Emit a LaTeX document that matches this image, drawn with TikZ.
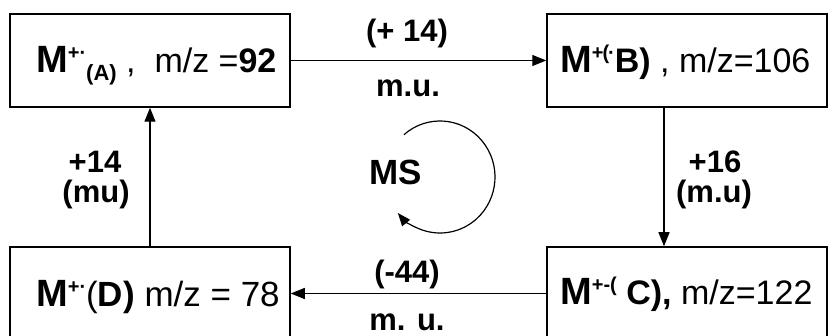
\documentclass[tikz,border=0pt]{standalone}
\usepackage{fontspec}
\setmainfont{Liberation Sans}
\usetikzlibrary{arrows.meta}
\newcommand{\Mbig}{{\fontsize{38}{38}\selectfont\bfseries M}}
\newcommand{\supt}[1]{\raisebox{13pt}{\fontsize{20}{20}\selectfont\bfseries #1}}
\newcommand{\subt}[1]{\raisebox{-8pt}{\fontsize{22}{22}\selectfont\bfseries #1}}
\begin{document}
\begin{tikzpicture}[x=1pt,y=1pt,
  box/.style={draw, line width=1.5pt, minimum width=280pt, minimum height=93pt, inner sep=0pt},
  txt/.style={inner sep=0pt, anchor=base west},
  lbl/.style={inner sep=0pt, anchor=base, font=\fontsize{31}{31}\selectfont\bfseries},
  conn/.style={line width=1.2pt, -{Triangle[length=14pt,width=11pt]}},
]
\useasboundingbox (0,0) rectangle (829,336);
\node[box] (A) at (150,275.5) {};
\node[box] (B) at (687,275.5) {};
\node[box] (D) at (150,42.5) {};
\node[box] (C) at (687,42.5) {};

\node[txt] (tA) at (36,263) {\Mbig\supt{+·}\subt{(A)}{\fontsize{34}{34}\selectfont~,~~m/z =\textbf{92}}};
\node[txt] (tB) at (560,263) {\Mbig\supt{+\kern-1pt(\kern-1pt·}{\fontsize{34}{34}\selectfont\textbf{B)} , m/z=106}};
\node[txt] (tC) at (560,31) {\Mbig\supt{+-(}{\fontsize{34}{34}\selectfont\textbf{~C),} m/z=122}};
\node[txt] (tD) at (36,29) {\Mbig\supt{+·}{\fontsize{35}{35}\selectfont(\textbf{D)} m/z = 78}};

\node[lbl] (l1) at (407,294) {(+ 14)};
\node[lbl] (l2) at (408,239) {m.u.};
\node[lbl] (l3) at (407,53) {(-44)};
\node[lbl] (l4) at (407,5) {m. u.};
\node[lbl] (l5) at (95,163) {+14};
\node[lbl] (l6) at (96,133) {(mu)};
\node[lbl] (l7) at (715,163) {+16};
\node[lbl] (l8) at (714,133) {(m.u)};
\node[lbl, font=\fontsize{35}{35}\selectfont\bfseries] (ms) at (396,151) {MS};

\draw[conn] (A.east) -- (B.west);
\draw[conn] ([xshift=-23pt]B.south) -- ([xshift=-23pt]C.north);
\draw[conn] (C.west) -- (D.east);
\draw[conn] (D.north) -- (A.south);

\coordinate (cyc) at (440,159);
\draw[line width=1.2pt, -{Triangle[length=13pt,width=10pt]}] ([shift={(131:55pt and 56pt)}]cyc) arc[start angle=131, end angle=-140, x radius=55pt, y radius=56pt];
\end{tikzpicture}
\end{document}
